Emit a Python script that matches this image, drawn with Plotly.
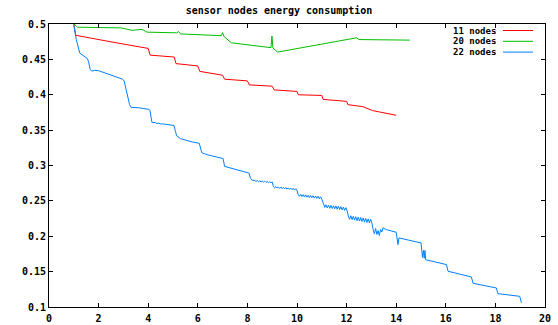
import plotly.graph_objects as go

title_text = "sensor nodes energy consumption"
series_names = ["11 nodes", "20 nodes", "22 nodes"]
series_colors = ["#ff0000", "#00c000", "#0080ff"]

# 11 nodes
red_x = [1.0, 1.08, 2.5, 4.0, 4.08, 5.05, 5.12, 6.0, 6.08, 7.0, 7.08, 8.0, 8.08, 9.0, 9.08,
         10.0, 10.05, 11.0, 11.05, 12.0, 12.05, 12.65, 13.05, 13.5, 14.0]
red_y = [0.5, 0.484, 0.4748, 0.4655, 0.456, 0.4533, 0.444, 0.4407, 0.433, 0.4276, 0.422,
         0.4196, 0.414, 0.4121, 0.4068, 0.4047, 0.400, 0.399, 0.3934, 0.3907, 0.386,
         0.3832, 0.3776, 0.3745, 0.371]

# 20 nodes
green_x = [1.0, 1.15, 2.9, 3.35, 3.75, 3.95, 5.15, 5.22, 5.3, 6.95, 7.0, 7.05, 7.35, 8.3,
           8.95, 8.99, 9.03, 9.22, 12.4, 12.5, 13.5, 14.55]
green_y = [0.5, 0.4955, 0.4945, 0.491, 0.4925, 0.4885, 0.4875, 0.4895, 0.486, 0.4835,
           0.4878, 0.4825, 0.4735, 0.469, 0.4665, 0.4830, 0.4660, 0.4603, 0.4805, 0.478,
           0.4772, 0.4772]

# 22 nodes
blue_x = [1.0, 1.1, 1.24, 1.55, 1.6, 1.66, 1.72, 1.85, 2.0, 2.5, 2.97, 3.03, 3.1, 3.17,
          3.25, 3.31, 3.5, 3.66, 3.8, 4.0, 4.07, 4.15, 4.3, 4.35, 4.4, 4.5, 4.62, 4.75,
          4.9, 5.04, 5.1, 5.15, 5.3, 5.59, 5.8, 6.06, 6.12, 6.16, 6.4, 6.61, 7.02, 7.08,
          7.3, 7.63, 7.8, 8.07, 8.12, 8.18,
          8.3, 8.35, 8.4, 8.45, 8.5, 8.55, 8.6, 8.65, 8.7, 8.75, 8.8, 8.85, 8.9, 8.95, 9.0,
          9.05, 9.10, 9.15, 9.20, 9.25, 9.30, 9.35, 9.40, 9.45, 9.50, 9.55, 9.60, 9.65,
          9.70, 9.75, 9.80, 9.85, 9.90, 9.95, 10.00,
          10.05, 10.10, 10.15, 10.20, 10.25, 10.30, 10.35, 10.40, 10.45, 10.50, 10.55,
          10.60, 10.65, 10.70, 10.75, 10.80, 10.85, 10.90, 10.95, 11.00,
          11.07, 11.12, 11.17, 11.22, 11.27, 11.32, 11.37, 11.42, 11.47, 11.52, 11.57,
          11.62, 11.67, 11.72, 11.77, 11.82, 11.87, 11.92, 11.97, 12.02,
          12.07, 12.12, 12.17, 12.22, 12.27, 12.32, 12.37, 12.42, 12.47, 12.52, 12.57,
          12.62, 12.67, 12.72, 12.77, 12.82, 12.87, 12.92, 12.97, 13.02,
          13.07, 13.12, 13.17, 13.22, 13.27, 13.32, 13.37, 13.42, 13.47, 13.55, 13.6,
          13.8, 14.0, 14.07, 14.11, 14.5, 15.0, 15.06, 15.1, 15.13, 15.16, 15.19, 15.6,
          16.03, 16.09, 16.5, 17.03, 17.1, 17.5, 18.04, 18.1, 18.5, 18.98, 19.05]
blue_y = [0.4985, 0.478, 0.459, 0.451, 0.446, 0.436, 0.4335, 0.4345, 0.434, 0.428, 0.422,
          0.4196, 0.41, 0.3986, 0.386, 0.3822, 0.382, 0.3815, 0.3805, 0.3795, 0.378, 0.361,
          0.3605, 0.3592, 0.3600, 0.3588, 0.3587, 0.358, 0.3575, 0.3565, 0.348, 0.342,
          0.338, 0.3348, 0.333, 0.3314, 0.322, 0.318, 0.315, 0.3132, 0.3098, 0.2987,
          0.2965, 0.293, 0.292, 0.2892, 0.282, 0.2796,
          0.2785, 0.2775, 0.2790, 0.2770, 0.2785, 0.2768, 0.2780, 0.2765, 0.2778, 0.2760,
          0.2775, 0.2758, 0.2772, 0.2755, 0.2768,
          0.2700, 0.2685, 0.2702, 0.2680, 0.2698, 0.2676, 0.2695, 0.2672, 0.2690, 0.2670,
          0.2688, 0.2665, 0.2684, 0.2662, 0.2680, 0.2660, 0.2676, 0.2652, 0.2672, 0.2648,
          0.2585, 0.2565, 0.2592, 0.2560, 0.2588, 0.2555, 0.2585, 0.2552, 0.2580, 0.2548,
          0.2576, 0.2545, 0.2572, 0.2540, 0.2568, 0.2536, 0.2565, 0.2530, 0.2558, 0.2525,
          0.2440, 0.2408, 0.2445, 0.2400, 0.2438, 0.2395, 0.2435, 0.2392, 0.2430, 0.2388,
          0.2428, 0.2382, 0.2425, 0.2378, 0.2418, 0.2372, 0.2412, 0.2366, 0.2405, 0.2360,
          0.2285, 0.2240, 0.2290, 0.2235, 0.2282, 0.2228, 0.2276, 0.2220, 0.2270, 0.2215,
          0.2265, 0.2210, 0.2258, 0.2200, 0.2252, 0.2195, 0.2245, 0.2190, 0.2238, 0.2185,
          0.2095, 0.2035, 0.2110, 0.2025, 0.2080, 0.2010, 0.2095, 0.2060, 0.2118, 0.2095,
          0.2094, 0.2075, 0.2057, 0.1882, 0.1976, 0.1945, 0.1906, 0.1700, 0.1800, 0.1690,
          0.1800, 0.1668, 0.1635, 0.1599, 0.1505, 0.147, 0.1425, 0.1335, 0.131, 0.1269,
          0.1189, 0.1172, 0.1151, 0.1060]

x_ticks = list(range(0, 21, 2))
y_ticks = [0.1, 0.15, 0.2, 0.25, 0.3, 0.35, 0.4, 0.45, 0.5]
y_tick_labels = ["0.1", "0.15", "0.2", "0.25", "0.3", "0.35", "0.4", "0.45", "0.5"]

FONT = "DejaVu Sans Mono"
W, H = 558, 325
L, R, T, B = 49, 13, 24, 18

fig = go.Figure()
for xs, ys, name, col in zip([red_x, green_x, blue_x], [red_y, green_y, blue_y],
                             series_names, series_colors):
    fig.add_trace(go.Scatter(x=xs, y=ys, mode="lines", name=name, showlegend=False,
                             line=dict(color=col, width=1)))

# gnuplot-style legend: right-aligned text with line sample on the right
pw, ph = W - L - R, H - T - B
def px(xp):
    return (xp - L) / pw
def py(yp):
    return 1 - (yp - T) / ph

rows = [30.5, 41.3, 52.1]
for name, col, yp in zip(series_names, series_colors, rows):
    fig.add_annotation(x=px(497), y=py(yp), xref="paper", yref="paper", text=name,
                       showarrow=False, xanchor="right", yanchor="middle", borderpad=0,
                       font=dict(family=FONT, size=9, color="black", weight="bold"))
    fig.add_shape(type="line", xref="paper", yref="paper", x0=px(503), x1=px(533),
                  y0=py(yp), y1=py(yp), line=dict(color=col, width=1))

axis_common = dict(showline=True, linecolor="#000000", linewidth=1, mirror="allticks",
                   ticks="inside", ticklen=4, tickcolor="#000000", showgrid=False,
                   zeroline=False, automargin=False,
                   tickfont=dict(family=FONT, size=10, color="black", weight="bold"))

fig.update_layout(
    width=W, height=H,
    margin=dict(l=L, r=R, t=T, b=B, autoexpand=False),
    paper_bgcolor="white", plot_bgcolor="white",
    title=dict(text=title_text, x=px(297), xanchor="center", y=1 - 10 / H, yanchor="middle",
               automargin=False,
               font=dict(family=FONT, size=10, color="black", weight="bold")),
    xaxis=dict(range=[0, 20], tickvals=x_ticks, ticktext=[str(v) for v in x_ticks],
               ticklabelstandoff=2, **axis_common),
    yaxis=dict(range=[0.1, 0.5], tickvals=y_ticks, ticktext=y_tick_labels, **axis_common),
)

fig.write_html("out.html")
